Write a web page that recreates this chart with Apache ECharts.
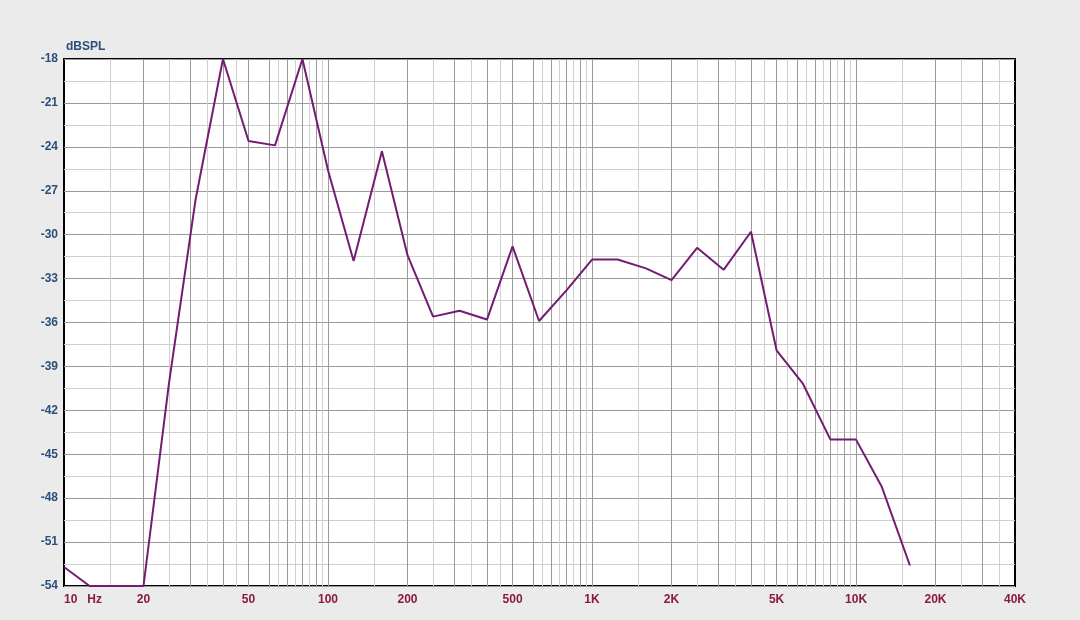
<!DOCTYPE html>
<html>
<head>
<meta charset="utf-8">
<title>dBSPL</title>
<script src="https://cdn.jsdelivr.net/npm/echarts@6/dist/echarts.min.js"></script>
<style>
    html, body {
        margin: 0;
        padding: 0;
        background-color: #ebebeb;
    }
    #main {
        width: 1080px;
        height: 620px;
    }
</style>
</head>
<body>
<div id="main"></div>
<script>
    // 1/3 倍频程频点 (Hz)
    var freqs = [10, 12.5, 16, 20, 25, 31.5, 40, 50, 63, 80, 100, 125, 160, 200, 250, 315, 400, 500, 630, 800,
        1000, 1250, 1600, 2000, 2500, 3150, 4000, 5000, 6300, 8000, 10000, 12500, 16000];
    // 声压级 dBSPL
    var spl = [-52.7, -54, -54, -54, -40.1, -27.6, -18, -23.6, -23.9, -18, -25.6, -31.8, -24.3, -31.4, -35.6, -35.2,
        -35.8, -30.8, -35.9, -33.8, -31.7, -31.7, -32.3, -33.1, -30.9, -32.4, -29.8, -37.9, -40.2, -44.0, -44.0,
        -47.2, -52.6];
    // x轴标注
    var xTicks = [10, 20, 50, 100, 200, 500, 1000, 2000, 5000, 10000, 20000, 40000];
    var xTickNames = ['10 Hz', '20', '50', '100', '200', '500', '1K', '2K', '5K', '10K', '20K', '40K'];
    // 竖向网格线 (深色 / 浅色)
    var gridMajor = [20, 30, 40, 50, 60, 70, 80, 90, 100, 200, 300, 400, 500, 600, 700, 800, 900,
        1000, 2000, 3000, 4000, 5000, 6000, 7000, 8000, 9000, 10000, 20000, 30000];
    var gridMinor = [15, 25, 35, 45, 65, 75, 85, 95, 150, 250, 350, 450, 650, 750, 850, 950,
        1500, 2500, 3500, 4500, 5500, 6500, 7500, 8500, 9500, 15000, 25000, 35000];

    var chart = echarts.init(document.getElementById('main'));

    var points = freqs.map(function (f, i) {
        return [f, spl[i]];
    });

    var gridLines = gridMajor.map(function (f) {
        return {xAxis: f, lineStyle: {color: '#9a9a9a', width: 1, type: 'solid'}};
    }).concat(gridMinor.map(function (f) {
        return {xAxis: f, lineStyle: {color: '#cfcfcf', width: 1, type: 'solid'}};
    }));

    chart.setOption({
        backgroundColor: '#ebebeb',
        animation: false,
        grid: {
            left: 64,
            right: 65,
            top: 59,
            bottom: 34,
            show: true,
            backgroundColor: '#ffffff',
            borderColor: '#000000',
            borderWidth: 2
        },
        xAxis: {
            type: 'log',
            logBase: 10,
            min: 10,
            max: 40000,
            axisLine: {show: false},
            axisTick: {show: false},
            splitLine: {show: false},
            axisLabel: {
                customValues: xTicks,
                margin: 8,
                color: '#8a1a40',
                fontFamily: 'Liberation Sans',
                fontWeight: 'bold',
                fontSize: 12,
                formatter: function (v) {
                    var idx = xTicks.indexOf(v);
                    var name = idx >= 0 ? xTickNames[idx] : '';
                    if (v === 10) {
                        return '{first|' + name.replace(' ', '   ') + '}';
                    }
                    return name;
                },
                rich: {
                    first: {
                        color: '#8a1a40',
                        fontFamily: 'Liberation Sans',
                        fontWeight: 'bold',
                        fontSize: 12,
                        padding: [0, 0, 0, 38]
                    }
                }
            }
        },
        yAxis: {
            type: 'value',
            min: -54,
            max: -18,
            interval: 3,
            name: 'dBSPL',
            nameLocation: 'end',
            nameGap: 6,
            nameTextStyle: {
                color: '#2a4f7c',
                fontFamily: 'Liberation Sans',
                fontWeight: 'bold',
                fontSize: 12,
                align: 'left',
                padding: [0, 0, 0, 2]
            },
            axisLine: {show: false},
            axisTick: {show: false},
            axisLabel: {
                margin: 6,
                color: '#2a4f7c',
                fontFamily: 'Liberation Sans',
                fontWeight: 'bold',
                fontSize: 12
            },
            splitLine: {lineStyle: {color: '#9a9a9a', width: 1}},
            minorTick: {show: false, splitNumber: 2},
            minorSplitLine: {show: true, lineStyle: {color: '#cfcfcf', width: 1}}
        },
        series: [
            {
                // 竖向网格
                name: 'grid',
                type: 'line',
                data: [],
                silent: true,
                z: 1,
                markLine: {
                    silent: true,
                    symbol: ['none', 'none'],
                    label: {show: false},
                    animation: false,
                    data: gridLines
                }
            },
            {
                name: 'dBSPL',
                type: 'line',
                data: points,
                z: 5,
                symbol: 'none',
                lineStyle: {
                    color: '#721c72',
                    width: 2
                }
            }
        ]
    });
</script>
</body>
</html>
